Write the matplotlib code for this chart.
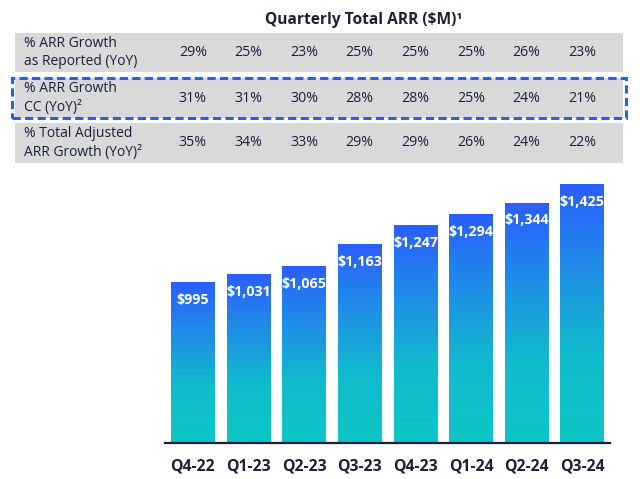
import matplotlib
matplotlib.use("Agg")
import matplotlib.pyplot as plt
import numpy as np
from matplotlib.colors import LinearSegmentedColormap
from matplotlib.patches import Rectangle
import matplotlib.transforms as mtransforms

plt.rcParams['font.family'] = ['Open Sans', 'DejaVu Sans']

quarters = ["Q4-22", "Q1-23", "Q2-23", "Q3-23", "Q4-23", "Q1-24", "Q2-24", "Q3-24"]
arr = [995, 1031, 1065, 1163, 1247, 1294, 1344, 1425]
arr_labels = ["$995", "$1,031", "$1,065", "$1,163", "$1,247", "$1,294", "$1,344", "$1,425"]
growth_reported = ["29%", "25%", "23%", "25%", "25%", "25%", "26%", "23%"]
growth_cc = ["31%", "31%", "30%", "28%", "28%", "25%", "24%", "21%"]
growth_adjusted = ["35%", "34%", "33%", "29%", "29%", "26%", "24%", "22%"]
row_labels = ["% ARR Growth\nas Reported (YoY)", "% ARR Growth\nCC (YoY)²", "% Total Adjusted\nARR Growth (YoY)²"]
title = "Quarterly Total ARR ($M)¹"

W, H = 640, 479
navy = "#1b1f3b"
gray = "#d9d9d9"
blue_dash = "#2160ff"

fig = plt.figure(figsize=(6.4, 4.79), dpi=100)

def fx(px):
    return px / W

def fy(py):
    return 1 - py / H

# Bars axes
ax_left, ax_right = 165, 610
ax_bottom, ax_top = 443.3, 175
ax = fig.add_axes([fx(ax_left), fy(ax_bottom), (ax_right - ax_left) / W, (ax_bottom - ax_top) / H])
ax.patch.set_visible(False)
ymin = 295
k = 0.2286
ymax = ymin + (ax_bottom - ax_top) / k
for s in ["top", "right", "left"]:
    ax.spines[s].set_visible(False)
ax.spines["bottom"].set_color(navy)
ax.spines["bottom"].set_linewidth(1.6)
ax.set_yticks([])
ax.set_xticks(range(len(quarters)))
ax.set_xticklabels(quarters, fontsize=11.3, fontweight="bold", color=navy)
ax.tick_params(axis="x", length=0, pad=11)

cmap = LinearSegmentedColormap.from_list("g", ["#0cc6c6", "#10bccc", "#1f8fe6", "#2c5eff"])
grad = np.linspace(0, 1, 256).reshape(-1, 1)
bw = 0.78
for i, v in enumerate(arr):
    ax.imshow(grad, extent=[i - bw / 2, i + bw / 2, ymin, v], origin="lower",
              cmap=cmap, aspect="auto", zorder=2, interpolation="bicubic")
    ax.text(i, v - 17 / k, arr_labels[i], ha="center", va="center", color="white",
            fontsize=10.3, fontweight="bold", zorder=3)
ax.set_xlim(-0.5, 7.5)
ax.set_ylim(ymin, ymax)

# Table (figure coords for y, data coords for x)
trans = mtransforms.blended_transform_factory(ax.transData, fig.transFigure)

fig.text(fx(364), fy(20), title, ha="center", va="center", fontsize=11.2,
         fontweight="bold", color=navy)

rows = [(33, 72, growth_reported), (78, 118, growth_cc), (123, 163, growth_adjusted)]
for r, (top, bot, vals) in enumerate(rows):
    fig.patches.append(Rectangle((fx(15), fy(bot)), fx(623) - fx(15), fy(top) - fy(bot),
                                 transform=fig.transFigure, facecolor=gray, edgecolor="none", zorder=-1))
    yc = (top + bot) / 2
    fig.text(fx(24), fy(yc), row_labels[r], ha="left", va="center", fontsize=10,
             color=navy, linespacing=1.35)
    for i, val in enumerate(vals):
        ax.text(i, fy(yc), val, transform=trans, ha="center", va="center",
                fontsize=10.2, color=navy, clip_on=False)

# Dashed highlight box
fig.patches.append(Rectangle((fx(11.5), fy(118)), fx(626) - fx(11.5), fy(77.5) - fy(118),
                             transform=fig.transFigure, facecolor="none", edgecolor=blue_dash,
                             linewidth=2.2, linestyle=(0, (2.7, 1.4)), zorder=5))

fig.savefig("out.png", dpi=100)
